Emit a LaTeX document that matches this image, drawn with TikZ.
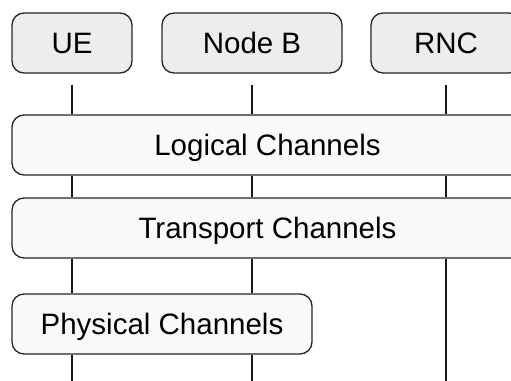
\documentclass[tikz,border=0pt]{standalone}
\usepackage{fontspec}
\setmainfont{Liberation Sans}
\begin{document}
\begin{tikzpicture}[x=1pt,y=-1pt,
  entity/.style={draw=black!85, line width=1.3pt, rounded corners=12pt,
    fill=black!7, minimum height=60pt, inner sep=0pt,
    text height=21pt, text depth=0pt,
    font=\fontsize{29.5}{35}\selectfont},
  channel/.style={entity, fill=black!2.5},
  lifeline/.style={draw=black!90, line width=1.5pt}]
  \useasboundingbox (0,0) rectangle (511,380);
  \clip (0,0) rectangle (511,380);
  % network entities
  \node[entity, minimum width=120pt] (ue)   at (72,43)  {UE};
  \node[entity, minimum width=180pt] (nodeb) at (252,43) {Node B};
  \node[entity, minimum width=150pt] (rnc)  at (446,43) {RNC};
  % channel layers
  \node[channel, minimum width=511pt] (logical)   at (267.5,145) {Logical Channels};
  \node[channel, minimum width=511pt] (transport) at (267.5,228) {Transport Channels};
  \node[channel, minimum width=300pt] (physical)  at (162,324)   {Physical Channels};
  % lower ends of the lifelines
  \coordinate (bottom) at (0,381);
  % entity -> logical
  \draw[lifeline, shorten <=11pt] (ue.south)    -- (ue |- logical.north);
  \draw[lifeline, shorten <=11pt] (nodeb.south) -- (nodeb |- logical.north);
  \draw[lifeline, shorten <=11pt] (rnc.south)   -- (rnc |- logical.north);
  % logical -> transport
  \draw[lifeline] (ue |- logical.south)    -- (ue |- transport.north);
  \draw[lifeline] (nodeb |- logical.south) -- (nodeb |- transport.north);
  \draw[lifeline] (rnc |- logical.south)   -- (rnc |- transport.north);
  % transport -> physical
  \draw[lifeline] (ue |- transport.south)    -- (ue |- physical.north);
  \draw[lifeline] (nodeb |- transport.south) -- (nodeb |- physical.north);
  \draw[lifeline] (rnc |- transport.south)   -- (rnc |- bottom);
  % below physical
  \draw[lifeline] (ue |- physical.south)    -- (ue |- bottom);
  \draw[lifeline] (nodeb |- physical.south) -- (nodeb |- bottom);
\end{tikzpicture}
\end{document}
